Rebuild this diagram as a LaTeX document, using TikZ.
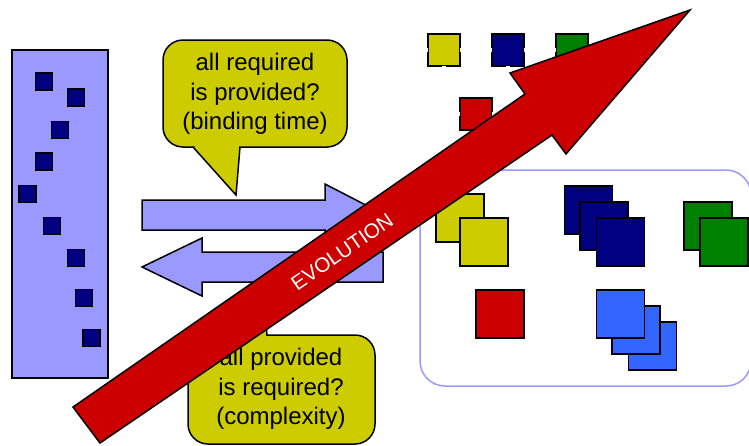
\documentclass[tikz,border=0pt]{standalone}
\usepackage{fontspec}
\setmainfont{Liberation Sans}
\definecolor{lilac}{HTML}{9999FF}
\definecolor{navy}{HTML}{000080}
\definecolor{olive}{HTML}{CCCC00}
\definecolor{leaf}{HTML}{008000}
\definecolor{crimson}{HTML}{CC0000}
\definecolor{sky}{HTML}{3366FF}
\begin{document}
\begin{tikzpicture}[x=1pt,y=-1pt,
  outline/.style={draw=black, line width=1.5pt, line join=miter},
  sq/.style={outline, minimum size=#1, inner sep=0pt},
  bubble/.style={outline, fill=olive, rounded corners=20pt, inner sep=0pt},
  bubbletext/.style={align=center, font=\fontsize{24}{29.5}\selectfont, inner sep=0pt},
  flow/.style={outline, fill=lilac},
  gap/.style={draw=white, line width=1.2pt}]
\useasboundingbox (0,0) rectangle (749,445);

% component store on the left
\node[outline, fill=lilac, minimum width=96pt, minimum height=328pt, inner sep=0pt] (store) at (60,214) {};
\foreach \i/\x/\y in {1/44/81.5, 2/76/97.5, 3/60/130, 4/44/161.5, 5/27.5/194,
                      6/52/226, 7/76/258, 8/84/298, 9/91.5/338}
  \node[sq=17pt, fill=navy] (s\i) at (\x,\y) {};

% single components at the top
\node[sq=32pt, fill=olive]   (ty) at (444,50) {};
\node[sq=32pt, fill=navy]    (tn) at (508,50) {};
\node[sq=32pt, fill=leaf]    (tg) at (572,50) {};
\node[sq=32pt, fill=crimson] (tr) at (476,114) {};
\foreach \n in {ty,tn,tg,tr} {
  \draw[gap] ([yshift=-2pt]\n.west) -- ([yshift=2pt]\n.west);
  \draw[gap] ([yshift=-2pt]\n.east) -- ([yshift=2pt]\n.east);
  \draw[gap] ([xshift=-2pt]\n.south) -- ([xshift=2pt]\n.south);
}

% configured system on the right
\draw[draw=lilac, line width=1.5pt, rounded corners=25pt] (420,170) rectangle (751,386);
\node[sq=48pt, fill=olive] (yb) at (460,218) {};
\node[sq=48pt, fill=olive] (yf) at (484,242) {};
\node[sq=48pt, fill=navy] (n1) at (588.5,210) {};
\node[sq=48pt, fill=navy] (n2) at (604,226) {};
\node[sq=48pt, fill=navy] (n3) at (620.5,242) {};
\node[sq=48pt, fill=leaf] (g1) at (708,226) {};
\node[sq=48pt, fill=leaf] (g2) at (724,242) {};
\node[sq=48pt, fill=crimson] (rq) at (500,314) {};
\node[sq=48pt, fill=sky] (b3) at (652.5,346) {};
\node[sq=48pt, fill=sky] (b2) at (636,330) {};
\node[sq=48pt, fill=sky] (b1) at (620.5,314) {};

% binding arrows
\draw[flow] (142,200) -- (325,200) -- (325,184) -- (385,215) -- (325,246) -- (325,230) -- (142,230) -- cycle;
\draw[flow] (383,252) -- (202,252) -- (202,238) -- (142,267) -- (202,296) -- (202,282) -- (383,282) -- cycle;

% upper callout
\node[bubble, minimum width=184pt, minimum height=107pt] (c1) at (255,93.5) {};
\fill[olive] (193,147) -- (236,195) -- (240,147) -- cycle;
\fill[olive] (195,144.5) rectangle (239,149.5);
\draw[outline] (193,147) -- (236,195) -- (240,147);
\node[bubbletext] (t1) at (255,94) {all required\\is provided?\\(binding time)};

% lower callout
\node[bubble, minimum width=187pt, minimum height=109pt] (c2) at (281.5,389.5) {};
\fill[olive] (222,335) -- (262,285) -- (267,335) -- cycle;
\fill[olive] (224,331) rectangle (266,337.5);
\draw[outline] (222,335) -- (262,285) -- (267,335);
\node[bubbletext] (t2) at (281,389) {all provided\\is required?\\(complexity)};

% evolution arrow
\draw[outline, fill=crimson] (690,10) -- (510,73) -- (525,94) -- (73,407) -- (100,443)
  -- (552,135) -- (566,154) -- cycle;
\node[text=white, rotate=34.7, font=\fontsize{20.5}{20.5}\selectfont, inner sep=0pt] (evo) at (342,252) {EVOLUTION};
\end{tikzpicture}
\end{document}
